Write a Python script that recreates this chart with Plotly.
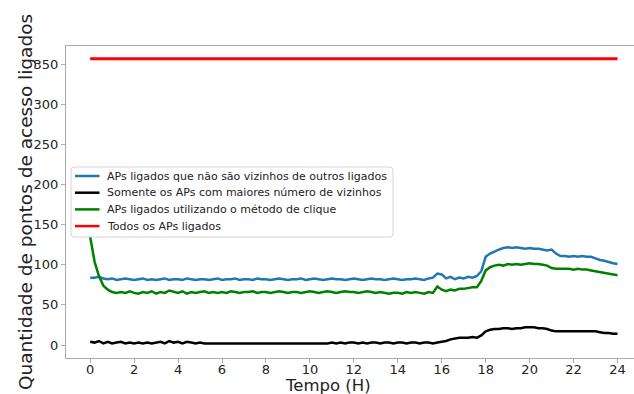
import plotly.graph_objects as go

# Sampling instants (hours) for the three measured series
hours = [round(0.2 * i, 1) for i in range(121)]

# APs on that are not neighbours of other active APs
nao_vizinhos = [
    84, 84, 85, 83, 82, 83, 81, 82, 83, 82,
    81, 82, 83, 81, 82, 81, 82, 83, 81, 82,
    82, 81, 83, 82, 81, 82, 82, 81, 82, 83,
    81, 82, 82, 83, 81, 82, 82, 81, 83, 82,
    82, 81, 82, 83, 82, 81, 82, 82, 83, 81,
    82, 83, 82, 81, 82, 83, 82, 82, 81, 82,
    83, 82, 81, 82, 83, 82, 82, 81, 82, 83,
    82, 81, 82, 82, 83, 82, 81, 83, 84, 89,
    88, 83, 85, 82, 84, 83, 85, 84, 86, 92,
    110, 114, 117, 119, 121, 122, 121, 122, 121, 120,
    121, 120, 120, 119, 118, 119, 114, 111, 111, 110,
    111, 110, 111, 110, 110, 108, 106, 105, 103, 102,
    101,
]

# Only the APs with the largest number of neighbours
maiores_vizinhos = [
    4, 3, 5, 2, 4, 2, 3, 4, 2, 3,
    2, 3, 2, 3, 2, 3, 4, 2, 5, 3,
    4, 2, 4, 3, 2, 3, 2, 2, 2, 2,
    2, 2, 2, 2, 2, 2, 2, 2, 2, 2,
    2, 2, 2, 2, 2, 2, 2, 2, 2, 2,
    2, 2, 2, 2, 2, 3, 2, 3, 2, 3,
    3, 2, 3, 2, 3, 3, 2, 3, 3, 2,
    3, 3, 2, 3, 3, 2, 3, 3, 2, 3,
    4, 5, 7, 8, 9, 9, 9, 10, 9, 12,
    17, 19, 20, 20, 21, 21, 20, 21, 21, 22,
    22, 22, 21, 21, 20, 18, 17, 17, 17, 17,
    17, 17, 17, 17, 17, 17, 16, 15, 15, 14,
    14,
]

# APs on chosen with the clique method
metodo_clique = [
    135, 104, 86, 74, 69, 66, 65, 66, 65, 67,
    65, 64, 66, 65, 67, 64, 66, 65, 68, 66,
    65, 67, 64, 66, 65, 66, 67, 65, 66, 65,
    66, 65, 67, 66, 65, 66, 66, 67, 65, 66,
    66, 65, 66, 67, 66, 65, 66, 66, 65, 66,
    67, 66, 65, 66, 67, 66, 65, 66, 67, 66,
    66, 65, 66, 67, 66, 65, 66, 65, 64, 65,
    65, 64, 66, 65, 66, 65, 64, 66, 65, 73,
    69, 67, 69, 68, 70, 70, 71, 72, 72, 80,
    93, 97, 99, 100, 99, 101, 100, 101, 100, 101,
    102, 101, 101, 100, 99, 96, 95, 95, 95, 95,
    94, 95, 94, 94, 93, 92, 91, 90, 89, 88,
    87,
]

# All APs switched on
horas_todos = [0.0, 24.0]
todos = [357, 357]

nomes = [
    "APs ligados que não são vizinhos de outros ligados",
    "Somente os APs com maiores número de vizinhos",
    "APs ligados utilizando o método de clique",
    "Todos os APs ligados",
]
cores = ["#1f77b4", "#000000", "#008000", "#ff0000"]

FONT = "DejaVu Sans, sans-serif"

fig = go.Figure()
series = [(hours, nao_vizinhos), (hours, maiores_vizinhos),
          (hours, metodo_clique), (horas_todos, todos)]
for (xs, ys), nome, cor in zip(series, nomes, cores):
    fig.add_trace(go.Scatter(x=xs, y=ys, mode="lines", name=nome,
                             line=dict(color=cor, width=3 if cor == "#ff0000" else 2.5)))

axis_common = dict(
    showgrid=False, zeroline=False,
    showline=True, linecolor="#aaaaaa", linewidth=1, mirror=True,
    ticks="outside", ticklen=4, tickcolor="#aaaaaa", tickwidth=1,
    tickfont=dict(family=FONT, size=13, color="#222222"),
)

# Plot-area geometry in pixels, used to place the legend box in paper units
L, T, W, H = 66, 46, 568, 312


def px(x):
    return (x - L) / W


def py(y):
    return (T + H - y) / H


# Legend frame with slightly rounded corners
bx0, bx1, by0, by1 = 71, 393, 167, 237
r = 3
rx, ry = r / W, r / H
X0, X1, Y0, Y1 = px(bx0), px(bx1), py(by1), py(by0)
frame_path = (
    f"M {X0 + rx},{Y1} L {X1 - rx},{Y1} Q {X1},{Y1} {X1},{Y1 - ry} "
    f"L {X1},{Y0 + ry} Q {X1},{Y0} {X1 - rx},{Y0} "
    f"L {X0 + rx},{Y0} Q {X0},{Y0} {X0},{Y0 + ry} "
    f"L {X0},{Y1 - ry} Q {X0},{Y1} {X0 + rx},{Y1} Z"
)
shapes = [dict(type="path", path=frame_path, xref="paper", yref="paper",
               fillcolor="rgba(255,255,255,0.85)", line=dict(color="#d4d4d4", width=1),
               layer="above")]
annotations = []
row_y = [176, 192.7, 209.4, 226.1]
for nome, cor, yy in zip(nomes, cores, row_y):
    shapes.append(dict(type="line", xref="paper", yref="paper",
                       x0=px(75), x1=px(99.5), y0=py(yy), y1=py(yy),
                       line=dict(color=cor, width=2.5), layer="above"))
    annotations.append(dict(text=nome, xref="paper", yref="paper",
                            x=px(105), y=py(yy), xanchor="left", yanchor="middle",
                            showarrow=False,
                            font=dict(family=FONT, size=11, color="#222222")))

annotations += [
    dict(text="Tempo (H)", xref="paper", yref="paper",
         x=px(327.5), y=py(386), xanchor="center", yanchor="middle",
         showarrow=False, font=dict(family=FONT, size=16.5, color="#222222")),
    dict(text="Quantidade de pontos de acesso ligados", xref="paper", yref="paper",
         x=px(25), y=0.5, xanchor="center", yanchor="middle", textangle=-90,
         showarrow=False, font=dict(family=FONT, size=18.5, color="#222222")),
]

fig.update_layout(
    width=634, height=394,
    margin=dict(l=L, r=634 - L - W, t=T, b=394 - T - H),
    paper_bgcolor="white", plot_bgcolor="white",
    xaxis=dict(range=[-1.1, 24.75], tickmode="array",
               tickvals=list(range(0, 25, 2)), ticklabelstandoff=-5, **axis_common),
    yaxis=dict(range=[-16.2, 372.8], tickmode="array",
               tickvals=list(range(0, 351, 50)), **axis_common),
    showlegend=False,
    shapes=shapes,
    annotations=annotations,
)

fig.write_html("out.html")
